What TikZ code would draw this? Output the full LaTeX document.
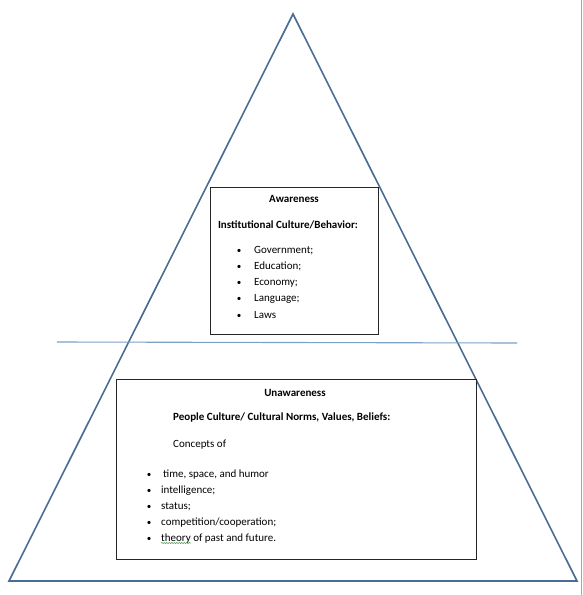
\documentclass[tikz,border=0pt]{standalone}
\usepackage{fontspec}
\setmainfont{Carlito}
\usetikzlibrary{decorations.pathmorphing}
\definecolor{tri}{RGB}{72,108,148}
\definecolor{sep}{RGB}{125,160,198}
\definecolor{spell}{RGB}{60,150,60}
\tikzset{
  txt/.style={inner sep=0pt, font=\fontsize{11}{13}\selectfont, anchor=base west},
  ctr/.style={inner sep=0pt, font=\fontsize{11}{13}\selectfont\bfseries, anchor=base},
  bul/.style={inner sep=0pt, font=\fontsize{9}{11}\selectfont, anchor=base},
  box/.style={draw=black!85, line width=0.9pt}
}
\begin{document}
\begin{tikzpicture}[x=1pt,y=-1pt]
\useasboundingbox (0,0) rectangle (582,595);
\draw[black!35, line width=0.8pt] (581,0) -- (581,595);
% triangle
\coordinate (apex) at (293,14);
\coordinate (bl) at (9,581);
\coordinate (br) at (577,581);
\draw[tri, line width=1.6pt, line join=miter] (apex) -- (br) -- (bl) -- cycle;
% separator
\coordinate (sl) at (57,342);
\coordinate (sr) at (517,343);
\draw[sep, line width=1.1pt] (sl) -- (sr);
% upper box
\draw[box, fill=white] (210,187) rectangle (378,334);
\node[ctr] (aw) at (294,202) {Awareness};
\node[ctr] (inst) at (288,228) {Institutional Culture/Behavior:};
\foreach \t/\y [count=\i] in {Government;/253, Education;/269, Economy;/285, Language;/301, Laws/318}{
  \node[bul] (ub\i) at (239,\y) {\textbullet};
  \node[txt] (ut\i) at (254,\y) {\t};
}
% lower box
\draw[box, fill=white] (116,379) rectangle (476,559);
\node[ctr] (un) at (295,396) {Unawareness};
\node[ctr, anchor=base west] (ppl) at (173,420) {People Culture/ Cultural Norms, Values, Beliefs:};
\node[txt] (conc) at (173,447) {Concepts of};
\node[bul] (lb1) at (149,477) {\textbullet};
\node[txt] (lt1) at (163,477) {time, space, and humor};
\node[bul] (lb2) at (149,493) {\textbullet};
\node[txt] (lt2) at (161,493) {intelligence;};
\node[bul] (lb3) at (149,509) {\textbullet};
\node[txt] (lt3) at (161,509) {status;};
\node[bul] (lb4) at (149,525) {\textbullet};
\node[txt] (lt4) at (161,525) {competition/cooperation;};
\node[bul] (lb5) at (149,541) {\textbullet};
\node[txt] (lt5) at (161,541) {\phantom{theory} of past and future.};
\node[txt] (th) at (161,541) {theory};
\draw[spell, line width=0.5pt, decorate, decoration={snake, amplitude=0.6pt, segment length=2.5pt}]
  ([yshift=-2pt]th.base west) -- ([yshift=-2pt]th.base east);
\end{tikzpicture}
\end{document}
